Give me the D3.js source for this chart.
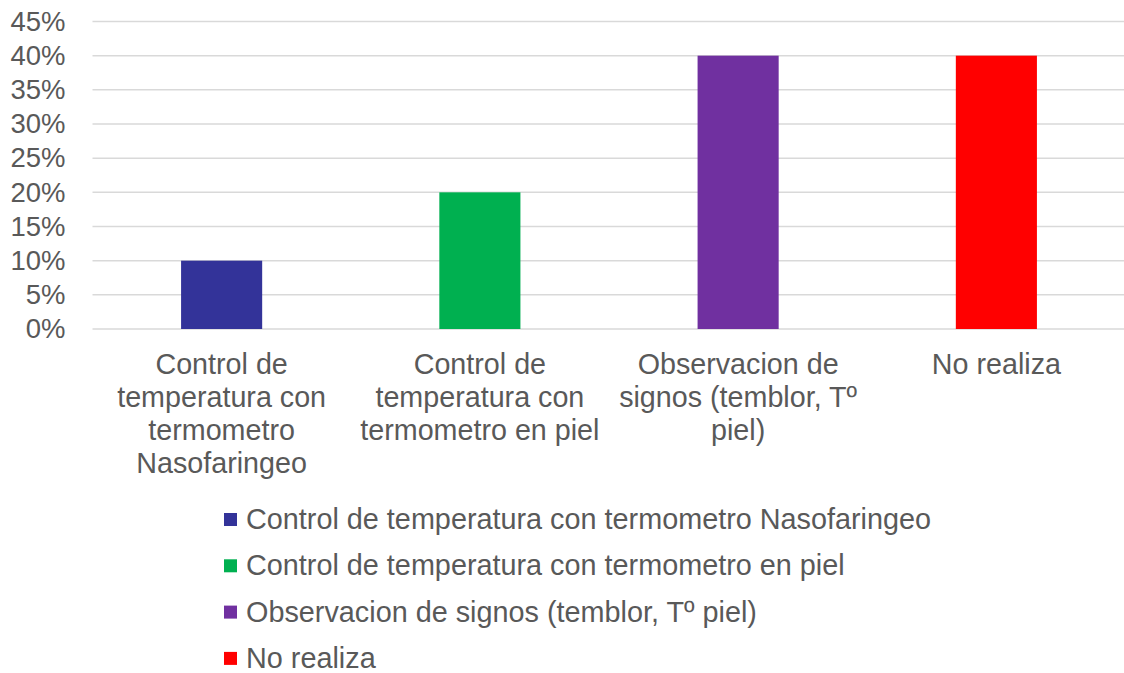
<!DOCTYPE html>
<html><head><meta charset="utf-8">
<script src="https://cdn.jsdelivr.net/npm/d3@7"></script>
<style>body{margin:0;background:#fff;} text{font-family:"Liberation Sans",Arial,sans-serif;}</style>
</head><body>
<svg id="c" width="1124" height="673"></svg>
<script>
const categories = ["Control de temperatura con termometro Nasofaringeo","Control de temperatura con termometro en piel","Observacion de signos (temblor, T\u00ba piel)","No realiza"];
const categoryLines = [["Control de","temperatura con","termometro","Nasofaringeo"],["Control de","temperatura con","termometro en piel"],["Observacion de","signos (temblor, T\u00ba","piel)"],["No realiza"]];
const values = [0.10, 0.20, 0.40, 0.40];
const colors = ["#333399","#00B050","#7030A0","#FF0000"];
const yTicks = [0,0.05,0.10,0.15,0.20,0.25,0.30,0.35,0.40,0.45];

(function(){
const svg = d3.select("#c");
const pl = 92.5, pr = 1125.5, pt = 21.5, pb = 329;
const x = d3.scaleBand().domain(categories).range([pl, pr]).paddingInner(0.686).paddingOuter(0.343);
const y = d3.scaleLinear().domain([0,0.45]).range([pb, pt]);

// gridlines
svg.append("g").selectAll("line").data(yTicks).join("line")
  .attr("x1", pl).attr("x2", pr)
  .attr("y1", d=>y(d)).attr("y2", d=>y(d))
  .attr("stroke","#d9d9d9").attr("stroke-width",1.5);

// y axis labels
const yAxis = d3.axisLeft(y).tickValues(yTicks).tickFormat(d3.format(".0%")).tickSize(0).tickPadding(0);
const ga = svg.append("g").attr("transform",`translate(65.5,0)`).call(yAxis);
ga.select(".domain").remove();
ga.selectAll("text").attr("fill","#595959").style("font-size","27.5px").style("font-family","'Liberation Sans',Arial,sans-serif");

// bars
svg.append("g").selectAll("rect").data(values).join("rect")
  .attr("x",(d,i)=>x(categories[i]))
  .attr("width", x.bandwidth())
  .attr("y", d=>y(d)).attr("height", d=>y(0)-y(d))
  .attr("fill",(d,i)=>colors[i]);

// category labels
const cl = svg.append("g");
categories.forEach((c,i)=>{
  const t = cl.append("text").attr("x", x(c)+x.bandwidth()/2).attr("y", 373.5)
    .attr("text-anchor","middle").attr("fill","#595959").style("font-size","28.7px");
  categoryLines[i].forEach((ln,j)=>{
    t.append("tspan").attr("x", x(c)+x.bandwidth()/2).attr("dy", j===0?0:33).text(ln);
  });
});

// legend
const lg = svg.append("g");
categories.forEach((c,i)=>{
  const cy = 519 + i*46.3;
  lg.append("rect").attr("x",224).attr("y",cy-6).attr("width",13).attr("height",13).attr("fill",colors[i]);
  lg.append("text").attr("x",246).attr("y",cy).attr("dy","0.35em").attr("fill","#595959").style("font-size","28.8px").text(c);
});
})();
</script>
</body></html>
